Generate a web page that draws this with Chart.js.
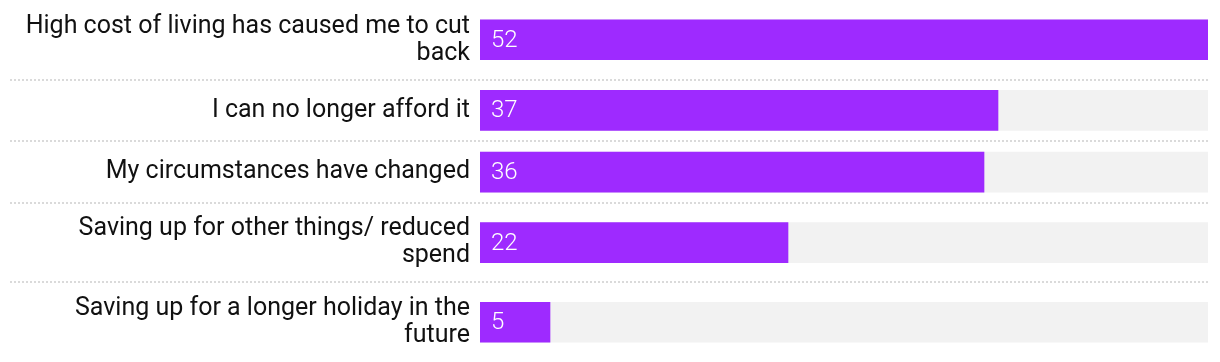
<!DOCTYPE html>
<html>
<head>
<meta charset="utf-8">
<script src="https://cdn.jsdelivr.net/npm/chart.js@4.4.1/dist/chart.umd.min.js"></script>
<style>
  html, body { margin: 0; padding: 0; background: #fff; }
  #wrap { width: 1220px; height: 362px; }
</style>
</head>
<body>
<div id="wrap"><canvas id="chart"></canvas></div>
<script>
// Data
const reasons = [
  ["High cost of living has caused me to cut", "back"],
  ["I can no longer afford it"],
  ["My circumstances have changed"],
  ["Saving up for other things/ reduced", "spend"],
  ["Saving up for a longer holiday in the", "future"]
];
const shares = [52, 37, 36, 22, 5];
const axisMax = 52;

// rows get taller when the label wraps onto two lines
const rowHeight = lines => 44 + 18 * lines;
let rowCenters = [];
let rowEdges = [];
let acc = 0;
reasons.forEach(lines => {
  const h = rowHeight(lines.length);
  rowCenters.push(acc + h / 2);
  acc += h;
  rowEdges.push(acc);
});
const totalHeight = acc;

const separators = {
  id: 'separators',
  beforeDatasetsDraw(chart) {
    const ctx = chart.ctx;
    const y = chart.scales.y;
    ctx.save();
    ctx.strokeStyle = '#dadada';
    ctx.lineWidth = 2;
    ctx.setLineDash([2, 2]);
    rowEdges.slice(0, -1).forEach(v => {
      const py = Math.round(y.getPixelForValue(v));
      ctx.beginPath();
      ctx.moveTo(10, py);
      ctx.lineTo(chart.chartArea.right, py);
      ctx.stroke();
    });
    ctx.restore();
  }
};

const valueLabels = {
  id: 'valueLabels',
  afterDatasetsDraw(chart) {
    const ctx = chart.ctx;
    const meta = chart.getDatasetMeta(0);
    ctx.save();
    ctx.fillStyle = '#ffffff';
    ctx.font = '300 24px Roboto';
    ctx.textAlign = 'left';
    ctx.textBaseline = 'middle';
    meta.data.forEach((bar, i) => {
      ctx.fillText(shares[i], bar.base + 11, bar.y + 1);
    });
    ctx.restore();
  }
};

const ctx = document.getElementById('chart').getContext('2d');
new Chart(ctx, {
  type: 'bar',
  data: {
    datasets: [
      {
        data: shares.map((v, i) => ({ x: v, y: rowCenters[i] })),
        backgroundColor: '#9e2aff',
        barThickness: 40,
        grouped: false,
        order: 0
      },
      {
        data: shares.map((v, i) => ({ x: axisMax, y: rowCenters[i] })),
        backgroundColor: '#f2f2f2',
        barThickness: 40,
        grouped: false,
        order: 1
      }
    ]
  },
  options: {
    indexAxis: 'y',
    responsive: true,
    maintainAspectRatio: false,
    animation: false,
    layout: { padding: { top: 0, bottom: 0, left: 0, right: 12 } },
    plugins: {
      legend: { display: false },
      tooltip: { enabled: false }
    },
    scales: {
      x: {
        type: 'linear',
        min: 0,
        max: axisMax,
        display: false
      },
      y: {
        type: 'linear',
        reverse: true,
        offset: false,
        min: 0,
        max: totalHeight,
        border: { display: false },
        grid: { display: false, drawTicks: false, offset: false },
        afterBuildTicks(scale) {
          scale.ticks = rowCenters.map(v => ({ value: v }));
        },
        afterFit(scale) {
          scale.width = 480;
          scale.paddingTop = 0;
          scale.paddingBottom = 0;
        },
        ticks: {
          padding: 10,
          autoSkip: false,
          color: '#111111',
          font: { family: 'Roboto', size: 25, weight: '400', lineHeight: 1.08 },
          callback: (value, index) => reasons[index]
        }
      }
    }
  },
  plugins: [separators, valueLabels]
});
</script>
</body>
</html>
